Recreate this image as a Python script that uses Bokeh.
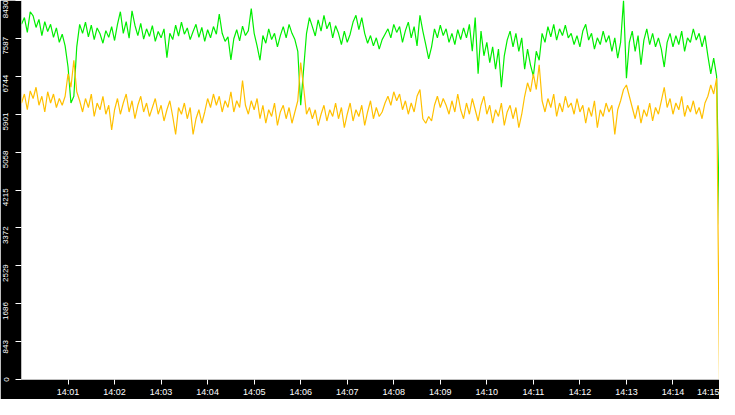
import pandas as pd
from bokeh.embed import file_html
from bokeh.models import DatetimeTickFormatter, FixedTicker, Range1d
from bokeh.plotting import figure
from bokeh.resources import INLINE

# samples every 3.75 s from 14:00:00 to 14:15:00
start_time = "2024-01-01 14:00:00"
sample_step_s = 3.75

green_vals = [
    7900, 8050, 7720, 8180, 8090, 7830, 8010, 7650, 7960, 7740,
    7900, 7610, 7820, 7500, 7680, 7420, 6950, 6150, 6300, 7400,
    7900, 7700, 7950, 7620, 7880, 7560, 7820, 7690, 7480, 7760,
    7610, 7850, 7540, 7900, 8180, 7700, 7960, 7590, 8200, 7880,
    7650, 7920, 7570, 7800, 7630, 7870, 7520, 7740, 7600, 7800,
    7160, 7700, 7560, 7880, 7640, 7950, 7680, 7820, 7560, 7740,
    7900, 7610, 7830, 7520, 7780, 7600, 7850, 7680, 8130, 7700,
    7520, 7620, 7110, 7580, 7780, 7530, 7860, 7650, 7760, 8250,
    7700, 7420, 7100, 7650, 7480, 7800, 7560, 7700, 7400, 7650,
    7850, 7600, 7900, 7700, 7560, 7300, 6100, 6900, 7700, 8050,
    7850, 7640, 8000, 7750, 8100, 7800, 7950, 7600, 7870, 7700,
    7450, 7750, 7500, 7680, 7950, 8100, 7780, 8050, 7700, 7480,
    7650, 7420, 7600, 7350, 7560, 7680, 7800, 7600, 7900, 7720,
    7850, 7500, 7760, 7950, 7600, 7850, 7420, 8100, 7750, 7450,
    7130, 7400, 7800, 7600, 7880, 7650, 7800, 7500, 7700, 7450,
    7780, 7560, 7820, 7600, 7900, 7300, 8050, 6800, 7750, 7200,
    7500, 7050, 7400, 6900, 7350, 6500, 7200, 7550, 7750, 7400,
    7700, 7300, 7600, 6900, 7350, 7000, 6750, 7300, 7100, 7700,
    7500, 7850, 7620, 7900, 7550, 7800, 7650, 7880, 7600, 7700,
    7450, 7650, 7400, 7750, 7900, 7550, 7700, 7350, 7600, 7450,
    7750, 7500, 7650, 7300, 7600, 7150, 7500, 8430, 6700, 7500,
    7750, 7300, 7650, 7000, 7550, 7800, 7450, 7700, 7400, 7600,
    7350, 6950, 7500, 7700, 7400, 7650, 7450, 7750, 7300, 7600,
    7500, 7800, 7550, 7700, 7400, 7650, 7200, 6800, 7150, 6750,
    3450,
]

amber_vals = [
    6150, 6350, 6000, 6420, 6250, 6500, 6100, 6300, 5950, 6400,
    6150, 6350, 6050, 6250, 6100, 6300, 6800, 6500, 7100, 6400,
    6200, 5950, 6250, 6050, 6350, 5850, 6150, 6000, 6300, 5900,
    6100, 5550, 6000, 6250, 5900, 6150, 6350, 5950, 6200, 5800,
    6100, 6300, 5950, 6150, 5850, 6050, 6250, 5900, 6100, 5750,
    6000, 6200, 5850, 5450, 6050, 5900, 6150, 5800, 6050, 5450,
    5800, 6000, 5700, 5950, 6250, 6050, 6350, 6100, 6300, 5950,
    6200, 6050, 6400, 5950, 6200, 6050, 6650, 6100, 5900, 6200,
    6000, 6250, 5800, 6100, 5700, 6000, 5850, 6150, 5650, 5950,
    6100, 5800, 6050, 5700, 5950, 6200, 7050, 6500, 5900, 6050,
    5800, 6000, 5650, 5900, 6100, 5750, 6000, 5850, 6150, 5800,
    6050, 5600, 5900, 6150, 5750, 6000, 5850, 6100, 5650, 5950,
    6200, 5800, 6050, 5850, 5950, 6150, 6300, 6100, 6400, 6200,
    6350, 6000, 6200, 5900, 6150, 5950, 6300, 6450, 5800, 5700,
    5850, 5750, 6100, 6300, 6050, 6250, 6100, 5900, 6200, 5950,
    6350, 6000, 5800, 6150, 5900, 6250, 6000, 5750, 6100, 6300,
    5900, 6100, 5700, 6000, 5850, 6150, 5650, 5950, 6100, 5800,
    6050, 5600, 5900, 6300, 6600, 6400, 6800, 6450, 7000, 6200,
    5950, 6250, 6050, 6350, 5850, 6150, 5950, 6300, 6050, 6150,
    5900, 6250, 5950, 6100, 5700, 6050, 5850, 6200, 5600, 6000,
    5850, 6150, 5950, 6100, 5450, 6000, 6200, 6450, 6550, 6300,
    6050, 5800, 6100, 5700, 6000, 5850, 6150, 5750, 6050, 5900,
    6200, 6500, 6050, 6250, 5900, 6150, 6000, 6300, 5850, 6100,
    5950, 6200, 5900, 6050, 5800, 6150, 6300, 6550, 6350, 6700,
    0,
]

y_ticks = [0, 843, 1686, 2529, 3372, 4215, 5058, 5901, 6744, 7587, 8430]
x_ticks = ["14:01", "14:02", "14:03", "14:04", "14:05", "14:06", "14:07", "14:08",
           "14:09", "14:10", "14:11", "14:12", "14:13", "14:14", "14:15"]

W, H = 719, 399
BORDER_L, BORDER_B = 15, 17

t0 = pd.Timestamp(start_time)
times = [t0 + pd.Timedelta(seconds=i * sample_step_s) for i in range(len(green_vals))]
epoch = pd.Timestamp("1970-01-01")
tick_ms = [(pd.Timestamp("2024-01-01 " + t) - epoch) / pd.Timedelta(milliseconds=1) for t in x_ticks]

p = figure(
    width=W,
    height=H,
    x_axis_type="datetime",
    x_range=Range1d(times[0], times[-1]),
    y_range=Range1d(y_ticks[0], y_ticks[-1]),
    output_backend="svg",
    toolbar_location=None,
    min_border_left=BORDER_L,
    min_border_bottom=BORDER_B,
    min_border_top=0,
    min_border_right=0,
    border_fill_color="black",
    background_fill_color="white",
    outline_line_color=None,
)

p.line(times, green_vals, line_color="#00ee00", line_width=1.2)
p.line(times, amber_vals, line_color="#ffc000", line_width=1.2)

p.xgrid.visible = False
p.ygrid.visible = False

# bottom axis: white ticks and labels on black
p.xaxis.ticker = FixedTicker(ticks=tick_ms)
p.xaxis.formatter = DatetimeTickFormatter(
    milliseconds="%H:%M", seconds="%H:%M", minsec="%H:%M",
    minutes="%H:%M", hourmin="%H:%M", hours="%H:%M",
)
p.xaxis.axis_line_color = None
p.xaxis.major_tick_in = 0
p.xaxis.major_tick_out = 5
p.xaxis.major_tick_line_color = "white"
p.xaxis.minor_tick_line_color = None
p.xaxis.major_label_text_color = "white"
p.xaxis.major_label_text_font = "Liberation Sans"
p.xaxis.major_label_text_font_size = "9px"
p.xaxis.major_label_standoff = 2

# left axis: tick marks are minor ticks at the values; the rotated labels
# sit just below each value (their end meets the tick), so the major
# ticks are moved down by half a label
units_per_px = (y_ticks[-1] - y_ticks[0]) / (H - BORDER_B)
label_pos = {}
for v in y_ticks:
    half_len_px = len(str(v)) * 4.45 / 2 - 1.5
    pos = max(y_ticks[0], round(v - half_len_px * units_per_px))
    label_pos[pos] = str(v)

p.yaxis.ticker = FixedTicker(ticks=list(label_pos), minor_ticks=y_ticks)
p.yaxis.major_label_overrides = label_pos
p.yaxis.major_label_orientation = "vertical"
p.yaxis.axis_line_color = None
p.yaxis.major_tick_in = 0
p.yaxis.major_tick_out = 0
p.yaxis.major_tick_line_color = None
p.yaxis.minor_tick_in = 0
p.yaxis.minor_tick_out = 6
p.yaxis.minor_tick_line_color = "white"
p.yaxis.major_label_text_color = "white"
p.yaxis.major_label_text_font = "Liberation Sans"
p.yaxis.major_label_text_font_size = "8px"
p.yaxis.major_label_standoff = 7

open("out.html", "w").write(file_html(p, INLINE))
